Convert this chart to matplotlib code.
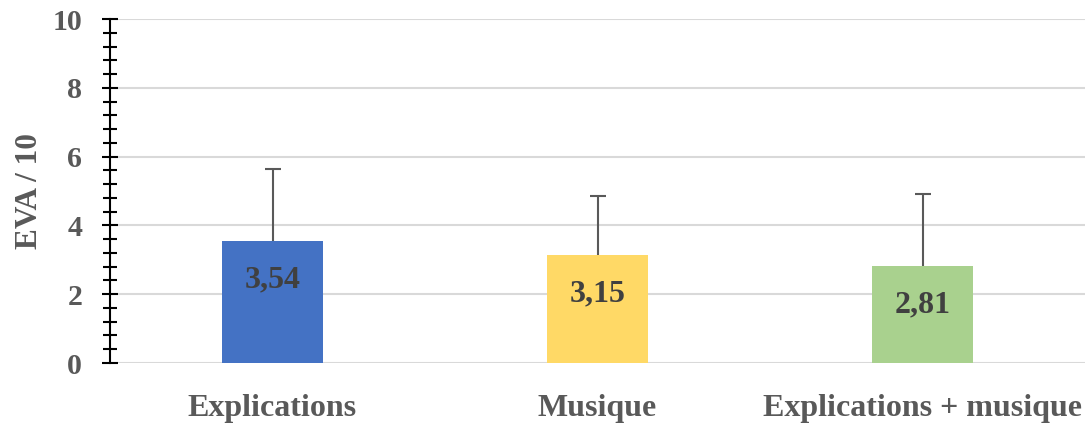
import matplotlib.pyplot as plt
from matplotlib.ticker import MultipleLocator

categories = ["Explications", "Musique", "Explications + musique"]
means = [3.54, 3.15, 2.81]
sds = [2.10, 1.70, 2.10]
labels = ["3,54", "3,15", "2,81"]
colors = ["#4472C4", "#FFD966", "#A9D18E"]

plt.rcParams['font.family'] = ['Liberation Serif', 'DejaVu Serif']
plt.rcParams['font.weight'] = 'bold'

fig = plt.figure(figsize=(10.92, 4.25), dpi=100)
ax = fig.add_axes([110 / 1092, 1 - 363 / 425, 975 / 1092, 344 / 425])

x = list(range(len(categories)))
tops = [m + s for m, s in zip(means, sds)]
ax.bar(x, means, width=0.31, color=colors, zorder=2)
# upper-only error bars with a cap on top
ax.errorbar(x, means, yerr=[[0] * 3, sds], fmt='none', ecolor='#595959',
            elinewidth=1.5, capsize=0, zorder=3)
ax.plot(x, tops, linestyle='none', marker='_', markersize=12,
        markeredgewidth=1.5, color='#595959', zorder=3)

for i, (m, lab) in enumerate(zip(means, labels)):
    ax.annotate(lab, (i, m), xytext=(0, -39), textcoords='offset pixels',
                ha='center', va='center', fontsize=23, fontweight='bold',
                color='#404040', zorder=4)

ax.set_xlim(-0.5, 2.5)
ax.set_ylim(0, 10)
ax.yaxis.set_major_locator(MultipleLocator(2))
ax.yaxis.set_minor_locator(MultipleLocator(0.4))
ax.grid(axis='y', color='#D9D9D9', linewidth=1.5, zorder=0)
ax.set_axisbelow(True)

for s in ['top', 'right', 'bottom']:
    ax.spines[s].set_visible(False)
ax.spines['left'].set_color('black')
ax.spines['left'].set_linewidth(1.5)
ax.spines['left'].set_zorder(5)

ax.tick_params(axis='y', which='major', direction='inout', length=12, width=1.5,
               color='black', labelsize=21.5, labelcolor='#595959', pad=14)
ax.tick_params(axis='y', which='minor', direction='inout', length=10, width=1.5, color='black')
ax.tick_params(axis='x', length=0, labelsize=23, labelcolor='#595959', pad=22)

ax.set_xticks(x)
ax.set_xticklabels(categories, fontweight='bold')
for t in ax.get_yticklabels():
    t.set_fontweight('bold')

ax.set_ylabel("EVA / 10", fontsize=22.5, fontweight='bold', color='#595959', labelpad=6)

fig.savefig("out.png", dpi=100)
